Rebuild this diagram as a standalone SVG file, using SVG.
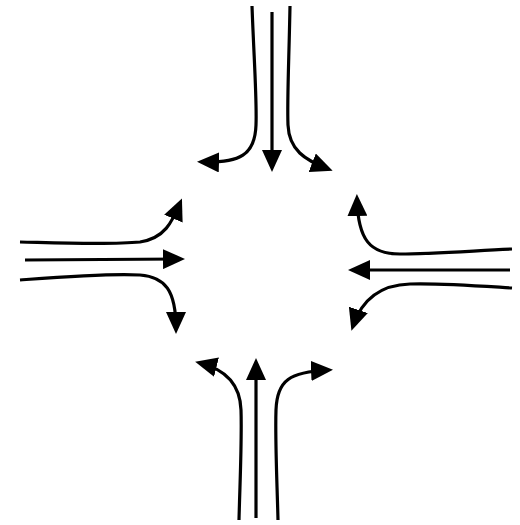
<svg xmlns="http://www.w3.org/2000/svg" width="520" height="525" viewBox="0 0 520 525">
  <style>
    .lane { fill: none; stroke: #000; stroke-width: 3.2; stroke-linecap: butt; marker-end: url(#arrow); }
  </style>
  <defs>
    <marker id="arrow" markerUnits="userSpaceOnUse" markerWidth="22" markerHeight="20" refX="17" refY="10" orient="auto" viewBox="0 0 22 20">
      <path d="M0,0 L22,10 L0,20 Z" fill="#000"/>
    </marker>
  </defs>
  <rect width="520" height="525" fill="#fff"/>
  <g id="connectors">
    <g id="north">
      <path class="lane" d="M252,6 C254,60 257,100 256,125 C255,155 240,163 202,162"/>
      <path class="lane" d="M272,12 L272,167"/>
      <path class="lane" d="M290,6 C289,60 287,100 288,125 C289,150 305,160 328,169"/>
    </g>
    <g id="west">
      <path class="lane" d="M20,242 C60,243 110,245 140,242 C165,238 172,222 180,203"/>
      <path class="lane" d="M25,260 L180,259"/>
      <path class="lane" d="M20,280 C60,277 110,273 140,275 C165,277 176,290 176,329"/>
    </g>
    <g id="east">
      <path class="lane" d="M512,249 C470,251 430,254 400,254 C370,254 358,240 357,199"/>
      <path class="lane" d="M510,270 L353,270"/>
      <path class="lane" d="M512,288 C480,286 440,283 410,284 C375,285 360,305 353,326"/>
    </g>
    <g id="south">
      <path class="lane" d="M239,520 C240,480 242,440 241,410 C240,380 220,368 200,363"/>
      <path class="lane" d="M256,518 L256,363"/>
      <path class="lane" d="M278,520 C277,480 275,440 276,410 C277,380 290,372 328,370"/>
    </g>
  </g>
</svg>
